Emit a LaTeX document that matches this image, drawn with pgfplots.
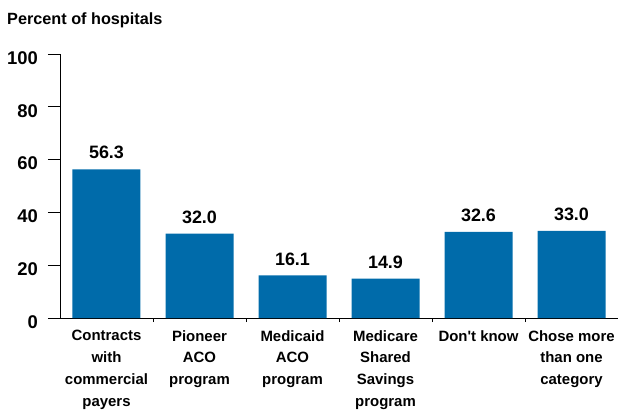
\documentclass[border=0pt]{standalone}
\usepackage{fontspec}
\setmainfont{Liberation Sans}
\usepackage{pgfplots}
\pgfplotsset{compat=1.18}
\definecolor{barblue}{RGB}{0,107,170}
\begin{document}
\begin{tikzpicture}
\begin{axis}[
  scale only axis, width=558bp, height=264bp,
  at={(0,0)}, anchor=south west,
  xmin=-0.5, xmax=5.5, ymin=0, ymax=100,
  axis lines*=left,
  axis line style={line width=0.9bp, black},
  /pgf/number format/assume math mode=true,
  tick align=outside,
  major tick length=12bp,
  ytick={0,20,40,60,80,100},
  yticklabels={0,20,40,60,80,100},
  ytick style={line width=0.9bp, black},
  yticklabel style={font=\fontsize{18.5}{21}\selectfont\bfseries, inner sep=0pt, xshift=-10bp, yshift=-4bp},
  xtick={0,1,2,3,4,5},
  xticklabels={{Contracts\\with\\commercial\\payers},{Pioneer\\ACO\\program},{Medicaid\\ACO\\program},{Medicare\\Shared\\Savings\\program},{Don\textquotesingle t know},{Chose more\\than one\\category}},
  xtick style={draw=none},
  xticklabel style={font=\fontsize{15}{22}\selectfont\bfseries, align=center, anchor=north, inner sep=0pt},
  extra x ticks={0.5,1.5,2.5,3.5,4.5},
  extra x tick labels={},
  extra x tick style={major tick length=4bp, xtick style={draw=black, line width=0.9bp}},
  ybar, bar width=68bp,
  nodes near coords,
  point meta=explicit symbolic,
  nodes near coords style={font=\fontsize{18}{21}\selectfont\bfseries, inner sep=0pt, anchor=south, yshift=10bp},
  clip=false,
]
\addplot[fill=barblue, draw=none] coordinates {
  (0,56.3) [56.3]
  (1,32.0) [32.0]
  (2,16.1) [16.1]
  (3,14.9) [14.9]
  (4,32.6) [32.6]
  (5,33.0) [33.0]
};
\end{axis}
\node[anchor=base west, font=\fontsize{16.3}{19}\selectfont\bfseries, inner sep=0pt] at (-53bp,293bp) {Percent of hospitals};
\pgfresetboundingbox
\path[use as bounding box] (-60bp,-93bp) rectangle (558bp,318bp);
\end{tikzpicture}
\end{document}
